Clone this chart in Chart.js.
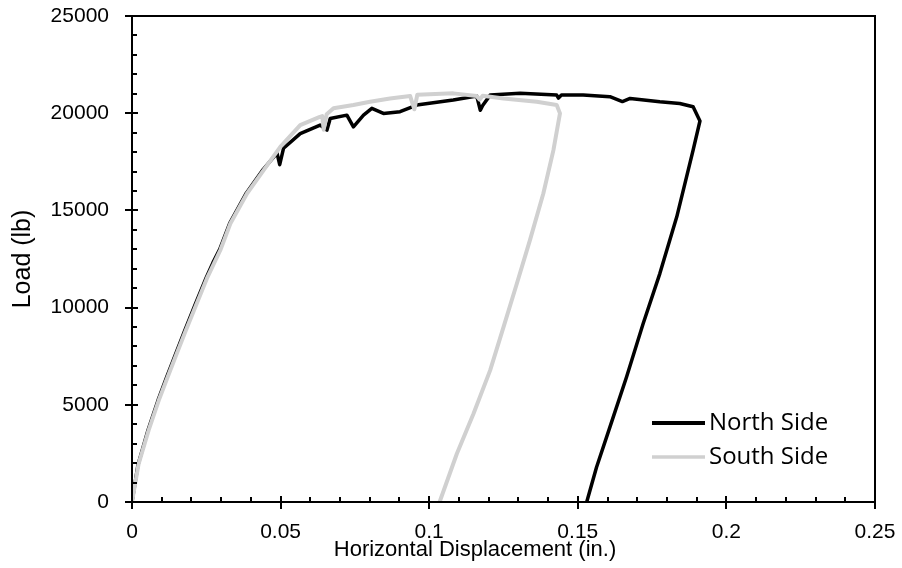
<!DOCTYPE html>
<html lang="en">
<head>
<meta charset="UTF-8">
<title>Load vs Horizontal Displacement</title>
<script src="https://cdn.jsdelivr.net/npm/chart.js"></script>
<style>
  html, body { margin: 0; padding: 0; background: #fff; }
  #wrap { width: 902px; height: 568px; }
</style>
</head>
<body>
<div id="wrap"><canvas id="loadChart" width="902" height="568"></canvas></div>
<script>
// displacement (in.) / load (lb)
const northDisp = [0, 0.0020, 0.0054, 0.0088, 0.0116, 0.0144, 0.0177, 0.0211, 0.0250, 0.0272, 0.0295, 0.0329, 0.0385, 0.0441, 0.0488, 0.0497, 0.0510, 0.0566, 0.0633, 0.0656, 0.0667, 0.0723, 0.0745, 0.0779, 0.0807, 0.0846, 0.0902, 0.0958, 0.1081, 0.1160, 0.1172, 0.1180, 0.1205, 0.1306, 0.1429, 0.1435, 0.1445, 0.1518, 0.1608, 0.1650, 0.1676, 0.1776, 0.1843, 0.1888, 0.1911, 0.1888, 0.1833, 0.1776, 0.1720, 0.1664, 0.1608, 0.1563, 0.1530];
const northLoad = [0, 1900, 3700, 5250, 6400, 7500, 8800, 10100, 11550, 12300, 13000, 14350, 15900, 17100, 17950, 17350, 18200, 18950, 19390, 19130, 19730, 19900, 19300, 19900, 20250, 19990, 20075, 20420, 20680, 20880, 20150, 20400, 20930, 21020, 20930, 20780, 20930, 20930, 20850, 20600, 20760, 20590, 20500, 20330, 19600, 18100, 14670, 11750, 9180, 6430, 3850, 1790, 0];

const southDisp = [0, 0.0022, 0.0056, 0.0090, 0.0118, 0.0146, 0.0179, 0.0213, 0.0252, 0.0297, 0.0331, 0.0387, 0.0443, 0.0499, 0.0566, 0.0630, 0.0640, 0.0645, 0.0655, 0.0678, 0.0745, 0.0801, 0.0868, 0.0936, 0.0950, 0.0960, 0.1081, 0.1160, 0.1170, 0.1180, 0.1250, 0.1362, 0.1429, 0.1440, 0.1418, 0.1384, 0.1339, 0.1295, 0.1250, 0.1205, 0.1149, 0.1093, 0.1035];
const southLoad = [0, 1950, 3700, 5230, 6350, 7460, 8750, 10030, 11500, 12950, 14330, 15870, 17070, 18270, 19390, 19800, 19850, 19150, 19950, 20250, 20420, 20590, 20760, 20880, 20200, 20950, 21020, 20880, 20700, 20900, 20760, 20590, 20420, 19990, 18100, 15870, 13470, 11240, 9000, 6770, 4540, 2480, 0];

const seriesNames = ['North Side', 'South Side'];
const xTicks = [0, 0.05, 0.1, 0.15, 0.2, 0.25];
const yTicks = [0, 5000, 10000, 15000, 20000, 25000];

function toPoints(xs, ys) {
  return xs.map((v, i) => ({ x: v, y: ys[i] }));
}

const tickFont = { family: "'Liberation Sans', Arial, sans-serif", size: 21 };

// keep tick labels from pushing the plot area around
function noOverhang(s) {
  s.paddingTop = 0;
  s.paddingBottom = 0;
  s.paddingLeft = 0;
  s.paddingRight = 0;
}

// frame, crossing major ticks, inward minor ticks, axis titles and legend
const decorations = {
  id: 'decorations',
  afterDatasetsDraw(chart) {
    const { ctx, chartArea: a, scales } = chart;
    const x = scales.x, y = scales.y;
    ctx.save();
    ctx.strokeStyle = '#000';
    ctx.lineWidth = 2;
    ctx.strokeRect(a.left, a.top, a.right - a.left, a.bottom - a.top);

    ctx.beginPath();
    for (let i = 0; i <= 25; i++) {
      const px = Math.round(x.getPixelForValue(i * 0.01));
      const major = i % 5 === 0;
      ctx.moveTo(px, a.bottom + (major ? 7 : 0));
      ctx.lineTo(px, a.bottom - (major ? 6 : 5));
    }
    for (let i = 0; i <= 25; i++) {
      const py = Math.round(y.getPixelForValue(i * 1000));
      const major = i % 5 === 0;
      ctx.moveTo(a.left - (major ? 7 : 0), py);
      ctx.lineTo(a.left + (major ? 6 : 5), py);
    }
    ctx.stroke();

    // axis titles
    ctx.fillStyle = '#000';
    ctx.textAlign = 'center';
    ctx.textBaseline = 'middle';
    ctx.font = "22px 'Liberation Sans', Arial, sans-serif";
    ctx.fillText('Horizontal Displacement (in.)', 475, 550);
    ctx.save();
    ctx.font = "25px 'Liberation Sans', Arial, sans-serif";
    ctx.translate(23, (a.top + a.bottom) / 2);
    ctx.rotate(-Math.PI / 2);
    ctx.fillText('Load (lb)', 0, 0);
    ctx.restore();

    // legend
    ctx.font = "24px 'Open Sans', sans-serif";
    ctx.textAlign = 'left';
    chart.data.datasets.forEach((ds, i) => {
      const ly = 423 + i * 34;
      ctx.beginPath();
      ctx.strokeStyle = ds.borderColor;
      ctx.lineWidth = i === 0 ? 4 : 3.5;
      ctx.moveTo(652, ly);
      ctx.lineTo(705, ly);
      ctx.stroke();
      ctx.fillStyle = '#000';
      ctx.fillText(ds.label, 709, ly);
    });
    ctx.restore();
  }
};

const ctx = document.getElementById('loadChart').getContext('2d');
const loadChart = new Chart(ctx, {
  type: 'scatter',
  data: {
    datasets: [
      {
        label: seriesNames[0],
        data: toPoints(northDisp, northLoad),
        borderColor: '#000000',
        borderWidth: 3.5,
        order: 1
      },
      {
        label: seriesNames[1],
        data: toPoints(southDisp, southLoad),
        borderColor: '#d0d0d0',
        borderWidth: 4,
        order: 0
      }
    ]
  },
  options: {
    responsive: false,
    animation: false,
    showLine: true,
    elements: {
      point: { radius: 0, hoverRadius: 0 },
      line: { tension: 0, borderJoinStyle: 'round', borderCapStyle: 'round', fill: false }
    },
    layout: { padding: { left: 0, right: 27, top: 16, bottom: 0 } },
    plugins: {
      legend: { display: false },
      tooltip: { enabled: false }
    },
    scales: {
      x: {
        type: 'linear',
        min: 0,
        max: 0.25,
        afterBuildTicks: s => { s.ticks = xTicks.map(v => ({ value: v })); },
        afterFit: s => { s.height = 66; noOverhang(s); },
        grid: { display: false },
        border: { display: false },
        ticks: {
          color: '#000',
          font: tickFont,
          padding: 10,
          maxRotation: 0,
          callback: v => String(+v.toFixed(2))
        }
      },
      y: {
        type: 'linear',
        min: 0,
        max: 25000,
        afterBuildTicks: s => { s.ticks = yTicks.map(v => ({ value: v })); },
        afterFit: s => { s.width = 132; noOverhang(s); },
        grid: { display: false },
        border: { display: false },
        ticks: {
          color: '#000',
          font: tickFont,
          padding: 15,
          callback: v => String(v)
        }
      }
    }
  },
  plugins: [decorations]
});
</script>
</body>
</html>
